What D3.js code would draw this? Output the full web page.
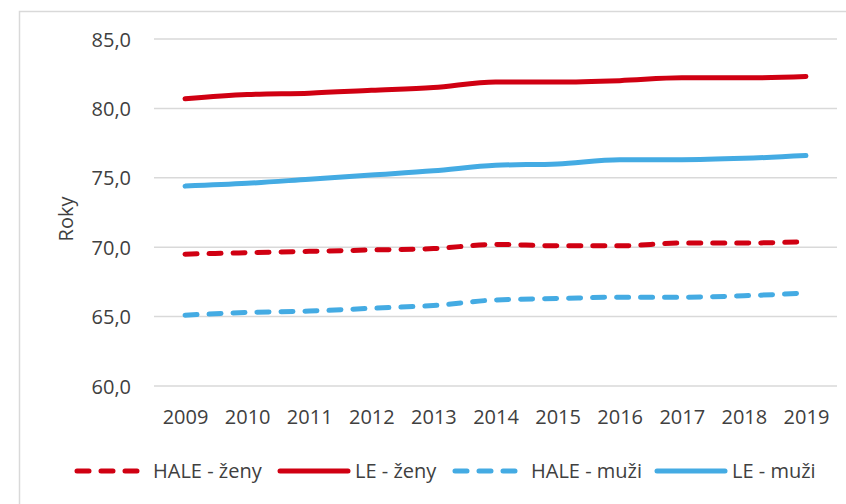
<!DOCTYPE html>
<html>
<head>
<meta charset="utf-8">
<script src="https://cdn.jsdelivr.net/npm/d3@7"></script>
<style>
  html, body { margin: 0; padding: 0; background: #fff; }
  svg { display: block; font-family: "Open Sans", sans-serif; }
</style>
</head>
<body>
<svg id="chart" width="846" height="504"></svg>
<script>
const years = ["2009","2010","2011","2012","2013","2014","2015","2016","2017","2018","2019"];
const haleZeny = [69.5, 69.6, 69.7, 69.8, 69.9, 70.2, 70.1, 70.1, 70.3, 70.3, 70.4];
const leZeny   = [80.7, 81.0, 81.1, 81.3, 81.5, 81.9, 81.9, 82.0, 82.2, 82.2, 82.3];
const haleMuzi = [65.1, 65.3, 65.4, 65.6, 65.8, 66.2, 66.3, 66.4, 66.4, 66.5, 66.7];
const leMuzi   = [74.4, 74.6, 74.9, 75.2, 75.5, 75.9, 76.0, 76.3, 76.3, 76.4, 76.6];
const yTicks = [60, 65, 70, 75, 80, 85];
const yLabel = "Roky";

const RED = "#D00012", BLUE = "#44ABE3", TEXT = "#404040", GRID = "#D9D9D9";

const series = [
  { name: "HALE - ženy", values: haleZeny, color: RED,  dashed: true },
  { name: "LE - ženy",   values: leZeny,   color: RED,  dashed: false },
  { name: "HALE - muži", values: haleMuzi, color: BLUE, dashed: true },
  { name: "LE - muži",   values: leMuzi,   color: BLUE, dashed: false }
];

const svg = d3.select("#chart");

// outer chart border
svg.append("rect").attr("x", 19.5).attr("y", 11.5).attr("width", 900).attr("height", 600)
  .attr("fill", "none").attr("stroke", GRID).attr("stroke-width", 1.5);

const x = d3.scalePoint().domain(years).range([154, 837]).padding(0.5);
const y = d3.scaleLinear().domain([60, 85]).range([386, 39]);

// gridlines
svg.append("g").selectAll("line").data(yTicks).join("line")
  .attr("x1", 154).attr("x2", 837)
  .attr("y1", d => y(d)).attr("y2", d => y(d))
  .attr("stroke", GRID).attr("stroke-width", 1.5);

// y axis labels
const fmt = d => d.toFixed(1).replace(".", ",");
const yAxis = d3.axisLeft(y).tickValues(yTicks).tickFormat(fmt).tickSize(0).tickPadding(0);
const gy = svg.append("g").attr("transform", "translate(131,0)").call(yAxis);
gy.select(".domain").remove();
gy.selectAll("text").attr("font-size", 20).attr("fill", TEXT)
  .attr("font-family", "Open Sans, sans-serif").attr("dy", "0.35em");

// x axis labels
const xAxis = d3.axisBottom(x).tickSize(0).tickPadding(0);
const gx = svg.append("g").attr("transform", "translate(0,417)").call(xAxis);
gx.select(".domain").remove();
gx.selectAll("text").attr("font-size", 20).attr("fill", TEXT)
  .attr("font-family", "Open Sans, sans-serif").attr("dy", "0.35em");

// y label
svg.append("text").attr("transform", "translate(66,219) rotate(-90)")
  .attr("text-anchor", "middle").attr("dy", "0.35em")
  .attr("font-size", 20).attr("fill", TEXT).text(yLabel);

// lines
const line = d3.line().x((d, i) => x(years[i])).y(d => y(d)).curve(d3.curveMonotoneX);
svg.append("g").selectAll("path").data(series).join("path")
  .attr("d", d => line(d.values))
  .attr("fill", "none").attr("stroke", d => d.color).attr("stroke-width", 5)
  .attr("stroke-linecap", "round").attr("stroke-linejoin", "round")
  .attr("stroke-dasharray", d => d.dashed ? "12,12" : null);

// legend
const legendX = [77, 280, 455, 657];
const lg = svg.append("g").attr("transform", "translate(0,471)");
series.forEach((s, i) => {
  const g = lg.append("g").attr("transform", `translate(${legendX[i]},0)`);
  g.append("line").attr("x1", 0).attr("x2", s.dashed ? 60 : 68).attr("y1", 0).attr("y2", 0)
    .attr("stroke", s.color).attr("stroke-width", 5).attr("stroke-linecap", "round")
    .attr("stroke-dasharray", s.dashed ? "12,12" : null);
  g.append("text").attr("x", s.dashed ? 76 : 75).attr("y", 0).attr("dy", "0.35em")
    .attr("font-size", 20).attr("fill", TEXT).text(s.name);
});
</script>
</body>
</html>
